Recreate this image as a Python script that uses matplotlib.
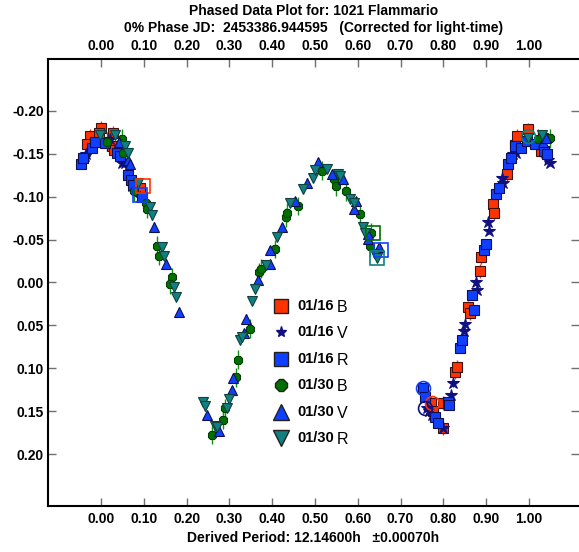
import matplotlib
matplotlib.use("Agg")
import matplotlib.pyplot as plt
import numpy as np

# ---------------- data (phase, relative magnitude) ----------------
b16_phase = [-0.027, -0.032, -0.001, -0.004, 0.028, 0.025, 0.030, 0.079, 0.091,
             0.771, 0.776, 0.798, 0.800, 0.827, 0.833, 0.858, 0.862, 0.886, 0.889,
             0.915, 0.919, 0.948, 0.967, 0.973, 0.998, 1.028, 1.032]
b16_mag = [-0.170, -0.161, -0.180, -0.174, -0.174, -0.159, -0.154, -0.116, -0.110,
           0.140, 0.150, 0.169, 0.140, 0.104, 0.098, 0.029, 0.036, -0.013, -0.030,
           -0.091, -0.081, -0.126, -0.160, -0.170, -0.178, -0.153, -0.168]

v16_phase = [-0.037, -0.035, -0.040, 0.021, 0.048, 0.056, 0.072, 0.091,
             0.761, 0.767, 0.773, 0.798, 0.819, 0.822, 0.848, 0.850, 0.876, 0.879,
             0.905, 0.907, 0.936, 0.940, 0.963, 0.970, 1.045, 1.049]
v16_mag = [-0.147, -0.149, -0.145, -0.167, -0.139, -0.139, -0.112, -0.100,
           0.146, 0.150, 0.154, 0.169, 0.131, 0.117, 0.056, 0.048, 0.000, 0.009,
           -0.070, -0.060, -0.121, -0.116, -0.149, -0.151, -0.143, -0.139]

r16_phase = [-0.047, -0.043, -0.021, -0.014, 0.009, 0.037, 0.044, 0.063, 0.069, 0.075, 0.095,
             0.752, 0.757, 0.780, 0.788, 0.810, 0.813, 0.839, 0.843, 0.866, 0.871,
             0.895, 0.900, 0.924, 0.930, 0.951, 0.958, 0.967, 0.981, 0.995, 1.014,
             1.035, 1.042]
r16_mag = [-0.138, -0.145, -0.156, -0.163, -0.162, -0.151, -0.147, -0.125, -0.119, -0.114, -0.100,
           0.123, 0.133, 0.157, 0.163, 0.139, 0.143, 0.076, 0.067, 0.015, 0.032,
           -0.038, -0.045, -0.103, -0.110, -0.138, -0.145, -0.159, -0.157, -0.165, -0.161,
           -0.153, -0.149]

b30_phase = [0.015, 0.048, 0.051, 0.077, 0.105, 0.108, 0.130, 0.136, 0.165, 0.161,
             0.259, 0.286, 0.290, 0.315, 0.321, 0.347, 0.370, 0.373, 0.407, 0.432,
             0.435, 0.461, 0.516, 0.544, 0.549, 0.572, 0.605, 0.632, 0.629,
             1.021, 1.049]
b30_mag = [-0.164, -0.167, -0.151, -0.106, -0.093, -0.086, -0.043, -0.031, -0.006, 0.002,
           0.177, 0.160, 0.146, 0.110, 0.090, 0.054, -0.012, -0.016, -0.039, -0.076,
           -0.081, -0.089, -0.130, -0.120, -0.112, -0.106, -0.080, -0.058, -0.042,
           -0.167, -0.168]

v30_phase = [0.043, 0.064, 0.068, 0.124, 0.152, 0.181,
             0.248, 0.276, 0.305, 0.309, 0.334, 0.339, 0.367, 0.395, 0.396, 0.422,
             0.453, 0.481, 0.508, 0.539, 0.566, 0.596, 0.591, 0.623, 0.625, 0.650,
             1.033, 1.041]
v30_mag = [-0.163, -0.142, -0.138, -0.065, -0.022, 0.034,
           0.154, 0.173, 0.125, 0.111, 0.059, 0.042, -0.003, -0.038, -0.021, -0.064,
           -0.095, -0.116, -0.140, -0.126, -0.120, -0.095, -0.085, -0.051, -0.057, -0.041,
           -0.164, -0.168]

r30_phase = [-0.002, 0.033, 0.056, 0.064, 0.087, 0.114, 0.119, 0.142, 0.148, 0.171, 0.175,
             0.239, 0.243, 0.266, 0.272, 0.295, 0.300, 0.325, 0.329, 0.352, 0.360,
             0.386, 0.412, 0.442, 0.471, 0.496, 0.500, 0.527, 0.554, 0.558, 0.582,
             0.590, 0.613, 0.617, 0.640, 0.644, 0.998, 1.030]
r30_mag = [-0.172, -0.172, -0.159, -0.151, -0.116, -0.088, -0.078, -0.041, -0.031, 0.005, 0.017,
           0.139, 0.144, 0.167, 0.168, 0.146, 0.135, 0.067, 0.063, 0.021, 0.007,
           -0.020, -0.053, -0.093, -0.109, -0.122, -0.131, -0.132, -0.126, -0.124, -0.097,
           -0.092, -0.064, -0.058, -0.033, -0.029, -0.168, -0.172]

# marked (first/last) observations: open squares and open circles
mark_sq_phase = [0.099, 0.091, 0.635, 0.654, 0.644]
mark_sq_mag = [-0.112, -0.102, -0.058, -0.038, -0.029]
mark_sq_color = ["#ff3300", "#1040ff", "#007000", "#1040ff", "#108080"]
mark_ci_phase = [0.752, 0.773, 0.757, 0.998]
mark_ci_mag = [0.123, 0.140, 0.146, -0.170]
mark_ci_color = ["#1040ff", "#ff3300", "#101080", "#108080"]

legend_dates = ["01/16", "01/16", "01/16", "01/30", "01/30", "01/30"]
legend_filters = ["B", "V", "R", "B", "V", "R"]

x_ticks = [0.0, 0.1, 0.2, 0.3, 0.4, 0.5, 0.6, 0.7, 0.8, 0.9, 1.0]
y_ticks = [-0.20, -0.15, -0.10, -0.05, 0.00, 0.05, 0.10, 0.15, 0.20]

title1 = "Phased Data Plot for: 1021 Flammario"
title2 = "0% Phase JD:  2453386.944595   (Corrected for light-time)"
xlabel = "Derived Period: 12.14600h   \u00b10.00070h"

# ---------------- styles ----------------
styles = [
    dict(marker="s", mfc="#ff3300", mec="#401010", ms=7, ecolor="#ff3300", err=0.008),
    dict(marker="*", mfc="#101080", mec="#101080", ms=9, ecolor="#101080", err=0.004),
    dict(marker="s", mfc="#1040ff", mec="#101050", ms=7, ecolor="#1040ff", err=0.004),
    dict(marker="8", mfc="#007000", mec="#004000", ms=6, ecolor="#109010", err=0.011),
    dict(marker="^", mfc="#1040ff", mec="#101050", ms=7.5, ecolor="#1040ff", err=0.005),
    dict(marker="v", mfc="#108080", mec="#104040", ms=7.5, ecolor="#108080", err=0.005),
]
series = [(b16_phase, b16_mag), (v16_phase, v16_mag), (r16_phase, r16_mag),
          (b30_phase, b30_mag), (v30_phase, v30_mag), (r30_phase, r30_mag)]

plt.rcParams['font.family'] = ['Liberation Sans', 'DejaVu Sans']

W, H = 579, 552
fig = plt.figure(figsize=(W / 100, H / 100), dpi=100)
ax = fig.add_axes([48 / W, 1 - 506 / H, (W - 48) / W, (506 - 59) / H])

for (px, py), st in zip(series, styles):
    ax.errorbar(px, py, yerr=st["err"], fmt=st["marker"], ms=st["ms"],
                mfc=st["mfc"], mec=st["mec"], mew=0.8, ecolor=st["ecolor"],
                elinewidth=1.0, capsize=0, linestyle="none", zorder=3)

for px, py, c in zip(mark_sq_phase, mark_sq_mag, mark_sq_color):
    ax.plot(px, py, "s", ms=10, mfc="none", mec=c, mew=1.2, zorder=4)
for px, py, c in zip(mark_ci_phase, mark_ci_mag, mark_ci_color):
    ax.plot(px, py, "o", ms=10, mfc="none", mec=c, mew=1.2, zorder=4)

ax.set_xlim(-0.124, 1.117)
ax.set_ylim(0.26, -0.26)
ax.set_xticks(x_ticks)
ax.set_xticklabels(["%.2f" % v for v in x_ticks])
ax.set_yticks(y_ticks)
ax.set_yticklabels([("%.2f" % v).replace("-0.00", "0.00") for v in y_ticks])

ax.tick_params(axis="x", which="both", direction="in", top=True, bottom=True,
               labeltop=True, labelbottom=True, length=6, width=1, color="#707070",
               pad=4)
ax.tick_params(axis="y", which="both", direction="in", left=True, right=True,
               labelleft=True, labelright=False, length=6, width=1, color="#707070",
               pad=3)
for lab in ax.get_xticklabels() + ax.get_yticklabels():
    lab.set_fontweight("bold")
    lab.set_fontsize(10)

for s in ["left", "bottom", "top"]:
    ax.spines[s].set_linewidth(1.5)
    ax.spines[s].set_color("black")
ax.spines["right"].set_visible(False)

# legend drawn manually in axes fraction coordinates
for i, (d, f) in enumerate(zip(legend_dates, legend_filters)):
    ypix = 305.7 + i * 26.5
    yf = (506 - ypix) / (506 - 59)
    xm = (281 - 48) / (W - 48)
    st = styles[i]
    ms_leg = {"s": 10, "*": 8, "8": 9, "^": 11, "v": 11}[st["marker"]]
    ax.plot([xm], [yf], st["marker"], ms=ms_leg, mfc=st["mfc"], mec="#202020" if st["marker"] != "*" else st["mec"],
            mew=1.0, transform=ax.transAxes, clip_on=False, zorder=5)
    ax.text((297 - 48) / (W - 48), yf, d, transform=ax.transAxes, fontsize=10.5,
            fontweight="bold", family=['Liberation Sans Narrow', 'Liberation Sans'],
            ha="left", va="center", zorder=5)
    ax.text((337 - 48) / (W - 48), yf - 0.004, f, transform=ax.transAxes, fontsize=11.5,
            ha="left", va="center", zorder=5)

cx = (48 + W) / 2 / W
fig.text(cx, 1 - 11 / H, title1, ha="center", va="center", fontsize=10, fontweight="bold")
fig.text(cx, 1 - 28 / H, title2, ha="center", va="center", fontsize=10, fontweight="bold")
fig.text(cx, 1 - 538 / H, xlabel, ha="center", va="center", fontsize=10, fontweight="bold")

fig.savefig("out.png", dpi=100)
